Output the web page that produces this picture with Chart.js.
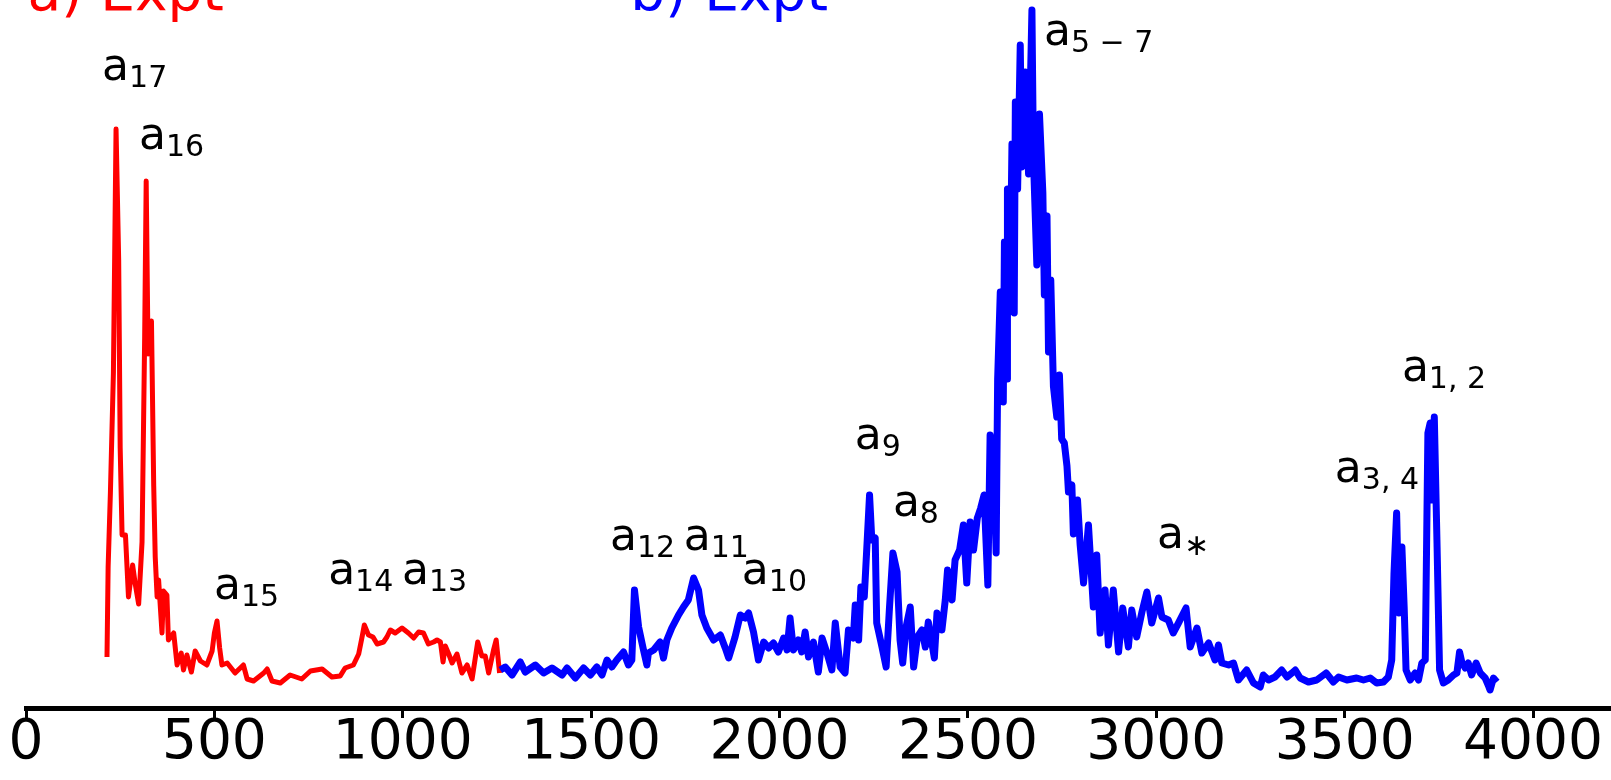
<!DOCTYPE html>
<html>
<head>
<meta charset="utf-8">
<script src="https://cdn.jsdelivr.net/npm/chart.js@4.4.1/dist/chart.umd.min.js"></script>
<style>
  html, body { margin: 0; padding: 0; background: #fff; }
  canvas { display: block; }
</style>
</head>
<body>
<canvas id="spectrum" width="1611" height="780"></canvas>
<script>
// a) Expt (low wavenumber part)
const redX = [215,218,224,232,239,246,250,255,264,272,283,290,299,308,315,319,324,333,339,343,
  348,352,361,365,374,378,392,401,412,418,427,439,449,463,480,494,500,507,514,520,
  534,555,577,587,604,631,640,653,675,701,732,755,786,812,834,847,869,883,892,898,
  909,921,932,949,958,967,980,998,1015,1029,1042,1055,1068,1082,1091,1100,1107,1113,1122,1131,
  1144,1157,1171,1184,1199,1210,1219,1228,1241,1248,1257];
const redY = [51,141,215,335,579,448,260,173,173,111,143,124,104,166,372,527,354,387,222,151,
  111,128,75,117,113,68,75,43,55,38,53,36,57,47,43,57,75,87,60,43,
  45,35,43,29,27,35,39,27,25,33,29,37,39,31,32,40,43,54,71,83,
  73,71,64,66,71,78,75,80,75,70,76,75,64,66,68,66,46,62,54,45,
  54,35,43,29,66,52,52,35,58,68,35];

// b) Expt (high wavenumber part)
const blueX = [1259,1272,1290,1312,1325,1352,1374,1396,1423,1436,1458,1480,1498,1515,1529,1542,1555,1568,1586,1599,
  1608,1615,1626,1639,1648,1652,1666,1683,1692,1701,1714,1732,1745,1758,1772,1785,1794,1807,1825,1843,
  1856,1865,1874,1882,1896,1909,1918,1931,1944,1958,1971,1984,1997,2011,2020,2028,2037,2050,2059,2068,
  2077,2090,2103,2113,2126,2139,2148,2161,2174,2183,2196,2201,2210,2216,2225,2239,2245,2254,2258,2272,
  2283,2292,2301,2312,2320,2327,2336,2347,2356,2366,2378,2387,2395,2411,2418,2431,2440,2446,2458,2466,
  2478,2488,2497,2506,2515,2525,2534,2543,2553,2559,2568,2575,2579,2586,2594,2597,2604,2605,2612,2617,
  2623,2626,2632,2639,2643,2652,2661,2670,2674,2683,2690,2699,2703,2710,2714,2720,2727,2736,2743,2749,
  2756,2763,2767,2776,2780,2791,2798,2807,2820,2833,2842,2851,2864,2873,2886,2900,2911,2926,2935,2948,
  2962,2975,2988,3006,3015,3032,3045,3059,3079,3090,3108,3121,3139,3156,3165,3174,3192,3205,3218,3240,
  3258,3276,3284,3298,3315,3333,3347,3360,3369,3382,3404,3426,3451,3470,3484,3506,3532,3550,3568,3585,
  3603,3616,3625,3631,3638,3644,3652,3658,3663,3674,3687,3696,3705,3714,3721,3727,3731,3738,3745,3752,
  3762,3775,3789,3798,3805,3811,3820,3828,3837,3849,3860,3873,3881,3886,3895,3904];
const blueY = [38,41,33,46,36,43,35,40,33,40,30,40,33,41,33,48,41,48,56,43,
  48,118,81,58,43,55,58,66,50,68,80,93,101,108,130,118,93,80,68,73,
  60,50,61,71,93,90,95,76,48,66,60,65,56,70,58,90,58,68,56,76,
  51,66,36,70,55,38,85,41,35,78,70,103,68,121,111,213,168,170,85,61,
  41,101,155,136,68,45,81,101,41,71,78,61,86,50,95,78,108,138,108,148,
  158,183,125,186,158,190,200,213,123,273,255,155,329,416,306,466,329,519,413,564,
  395,606,519,663,541,636,534,698,549,443,594,515,413,492,356,428,322,291,333,269,
  265,242,216,223,174,208,163,125,183,101,153,75,118,63,118,56,100,61,98,71,
  96,116,85,110,91,88,75,85,100,61,80,55,65,48,63,45,43,45,28,38,
  25,21,33,28,31,38,31,35,38,30,26,28,35,26,31,28,30,28,30,25,
  26,31,48,135,195,95,161,101,38,28,35,28,45,48,275,285,208,291,168,38,
  25,28,33,35,56,46,40,45,33,45,35,30,23,18,30,26];

const xTickValues = [0, 500, 1000, 1500, 2000, 2500, 3000, 3500, 4000];

// peak labels: subscript text and where the "a" sits (data units)
const peakSubs = ['17', '16', '15', '14', '13', '12', '11', '10', '9', '8', '5 \u2212 7', '\u2217', '3, 4', '1, 2'];
const peakLabelX = [202, 300, 499, 802, 998, 1550, 1746, 1900, 2200, 2301, 2702, 3002, 3474, 3652];
const peakLabelY = [628, 559, 109, 124, 124, 158, 158, 124, 259, 192, 663, 160, 226, 327];

const panelTitles = ['a) Expt', 'b) Expt'];
const panelTitleX = [4, 1604];
const panelTitleY = [698, 698];

const xMax = 4207;
const yMax = 708;

const toPoints = (xs, ys) => xs.map((x, i) => ({ x: x, y: ys[i] }));

const labelPlugin = {
    id: 'peakLabels',
    afterDatasetsDraw(chart) {
        const ctx = chart.ctx;
        const xs = chart.scales.x, ys = chart.scales.y;
        ctx.save();
        ctx.textBaseline = 'alphabetic';
        ctx.textAlign = 'left';

        // panel titles
        ctx.font = '55px "DejaVu Sans"';
        ['#ff0000', '#0000ff'].forEach((c, i) => {
            ctx.fillStyle = c;
            ctx.fillText(panelTitles[i], xs.getPixelForValue(panelTitleX[i]), ys.getPixelForValue(panelTitleY[i]));
        });

        // a_n labels
        ctx.fillStyle = '#000';
        peakSubs.forEach((sub, i) => {
            const px = xs.getPixelForValue(peakLabelX[i]);
            const py = ys.getPixelForValue(peakLabelY[i]);
            ctx.font = '44px "DejaVu Sans"';
            ctx.fillText('a', px, py);
            const w = ctx.measureText('a').width;
            ctx.font = '30px "DejaVu Sans"';
            ctx.fillText(sub, px + w, py + 7);
        });
        ctx.restore();
    }
};

const ctx = document.getElementById('spectrum').getContext('2d');
const chart = new Chart(ctx, {
    type: 'line',
    data: {
        datasets: [
            {
                label: 'b) Expt',
                data: toPoints(blueX, blueY),
                borderColor: '#0000ff',
                borderWidth: 7,
                pointRadius: 0,
                tension: 0,
                borderJoinStyle: 'round',
                fill: false,
            },
            {
                label: 'a) Expt',
                data: toPoints(redX, redY),
                borderColor: '#ff0000',
                borderWidth: 5,
                pointRadius: 0,
                tension: 0,
                borderJoinStyle: 'round',
                fill: false,
            }
        ]
    },
    options: {
        responsive: false,
        animation: false,
        layout: { padding: { left: 26, right: 0, top: 0, bottom: 0 } },
        plugins: {
            legend: { display: false },
            tooltip: { enabled: false },
        },
        scales: {
            x: {
                type: 'linear',
                position: 'bottom',
                min: 0,
                max: xMax,
                afterBuildTicks: (scale) => {
                    scale.ticks = xTickValues.map(v => ({ value: v }));
                },
                afterFit: (scale) => { scale.height = 72; },
                ticks: {
                    autoSkip: false,
                    maxRotation: 0,
                    padding: 0,
                    color: '#000',
                    font: { family: 'DejaVu Sans', size: 55, lineHeight: 0.95 },
                    callback: (v) => String(v),
                },
                grid: {
                    drawOnChartArea: false,
                    drawTicks: true,
                    tickLength: 10,
                    tickWidth: 3,
                    tickColor: '#000',
                },
                border: { display: true, color: '#000', width: 5 },
            },
            y: {
                display: false,
                min: 0,
                max: yMax,
            }
        }
    },
    plugins: [labelPlugin]
});
</script>
</body>
</html>
